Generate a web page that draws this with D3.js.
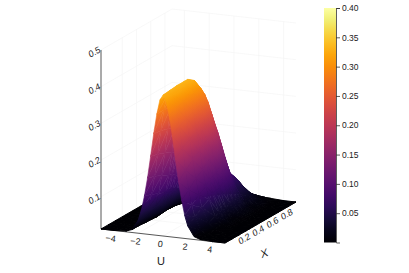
<!DOCTYPE html>
<html>
<head>
<meta charset="utf-8">
<script src="https://cdn.jsdelivr.net/npm/d3@7"></script>
<style>
  html, body { margin: 0; padding: 0; background: #fff; }
  text { font-family: "Liberation Sans", sans-serif; fill: #222; }
</style>
</head>
<body>
<div id="chart"></div>
<script>
// heights, one row per X, one column per U
const uValues = [-5,-4,-3,-2.5,-2,-1.75,-1.5,-1.25,-1,-0.75,-0.5,-0.25,0,0.25,0.5,0.75,1,1.25,1.5,1.75,2,2.5,3,4,5];
const xValues = [-0.1,0,0.1,0.2,0.25,0.3,0.35,0.4,0.45,0.5,0.55,0.6,0.65,0.7,0.8,0.9];
const zRows = [
  [.012,.012,.014,.020,.047,.075,.115,.165,.225,.288,.342,.382,.396,.382,.342,.288,.225,.165,.115,.075,.047,.020,.014,.012,.012],
  [.012,.012,.014,.020,.045,.070,.108,.159,.220,.285,.343,.383,.398,.387,.353,.302,.243,.184,.132,.091,.060,.027,.015,.012,.012],
  [.012,.012,.013,.018,.040,.063,.100,.150,.212,.279,.341,.384,.400,.389,.358,.313,.258,.203,.152,.109,.075,.035,.019,.012,.012],
  [.012,.012,.013,.017,.035,.056,.091,.140,.203,.272,.337,.383,.400,.390,.362,.320,.268,.215,.165,.121,.086,.041,.021,.012,.012],
  [.012,.012,.013,.016,.033,.053,.088,.136,.198,.268,.334,.382,.400,.391,.365,.326,.278,.227,.178,.133,.097,.048,.025,.012,.012],
  [.012,.012,.013,.017,.033,.052,.084,.130,.190,.255,.317,.367,.390,.392,.368,.330,.285,.234,.185,.139,.100,.047,.023,.012,.012],
  [.012,.012,.013,.018,.035,.051,.078,.115,.162,.216,.272,.322,.358,.374,.365,.335,.292,.242,.189,.141,.100,.046,.022,.013,.012],
  [.012,.012,.014,.019,.036,.052,.075,.107,.148,.194,.243,.290,.325,.345,.344,.325,.290,.245,.199,.153,.113,.056,.027,.013,.012],
  [.012,.012,.013,.018,.033,.046,.066,.092,.125,.163,.205,.246,.280,.300,.303,.289,.261,.225,.184,.145,.110,.057,.029,.013,.012],
  [.012,.012,.013,.018,.030,.041,.057,.079,.106,.137,.169,.201,.230,.249,.255,.248,.229,.201,.169,.137,.106,.057,.030,.013,.012],
  [.012,.012,.012,.016,.024,.032,.043,.059,.078,.100,.125,.149,.172,.187,.194,.190,.178,.158,.135,.110,.087,.049,.027,.013,.012],
  [.012,.012,.012,.014,.019,.024,.031,.041,.053,.068,.084,.100,.117,.128,.134,.132,.124,.111,.096,.080,.065,.039,.023,.013,.012],
  [.012,.012,.012,.013,.017,.021,.026,.034,.043,.055,.069,.083,.095,.105,.110,.111,.107,.099,.088,.075,.062,.039,.024,.013,.012],
  [.012,.012,.012,.013,.016,.018,.022,.027,.034,.043,.054,.065,.076,.085,.091,.093,.092,.087,.079,.069,.058,.038,.025,.014,.012],
  [.012,.012,.012,.012,.014,.015,.016,.018,.021,.023,.026,.030,.033,.036,.038,.040,.040,.040,.038,.036,.033,.026,.021,.014,.012],
  [.012,.012,.012,.012,.012,.012,.012,.013,.013,.014,.014,.015,.016,.017,.017,.018,.018,.018,.018,.017,.017,.015,.014,.012,.012]
];
const uTicks = [-4,-2,0,2,4];
const xTicks = [0.2,0.4,0.6,0.8];
const zTicks = [0.1,0.2,0.3,0.4,0.5];
const barTicks = [0.05,0.10,0.15,0.20,0.25,0.30,0.35,0.40];

const width = 409, height = 273;

let svg = d3.select("#chart").append("svg")
    .attr("width", width)
    .attr("height", height)
    .style("display", "block");
let defs = svg.append("defs");

// oblique projection: each data axis has a screen x and a screen y part
let uToX = d3.scaleLinear().domain([-5,5]).range([0,124]);
let uToY = d3.scaleLinear().domain([-5,5]).range([0,14]);
let xToX = d3.scaleLinear().domain([-0.1,0.9]).range([0,71]);
let xToY = d3.scaleLinear().domain([-0.1,0.9]).range([0,-41]);
let zToY = d3.scaleLinear().domain([0.012,0.5]).range([0,-179]);
let originX = 101, originY = 229;

function px(u, x) { return originX + uToX(u) + xToX(x); }
function py(u, x, z) { return originY + uToY(u) + xToY(x) + zToY(z); }

let surfaceColor = d3.scaleSequential(d3.interpolateInferno).domain([0.014,0.48]).clamp(true);
let barColor = d3.scaleSequential(d3.interpolateInferno).domain([0,0.4]);

// grid on the two back walls and the floor
let grid = svg.append("g").attr("stroke", "#f5f5f5").attr("stroke-width", 0.7).attr("fill", "none");
function seg(a, b) {
  grid.append("line").attr("x1", a[0]).attr("y1", a[1]).attr("x2", b[0]).attr("y2", b[1]);
}
zTicks.forEach(function(z) {
  seg([px(-5,-0.1),py(-5,-0.1,z)], [px(-5,0.9),py(-5,0.9,z)]);
  seg([px(-5,0.9),py(-5,0.9,z)], [px(5,0.9),py(5,0.9,z)]);
});
xTicks.forEach(function(x) {
  seg([px(-5,x),py(-5,x,0.012)], [px(-5,x),py(-5,x,0.5)]);
  seg([px(-5,x),py(-5,x,0.012)], [px(5,x),py(5,x,0.012)]);
});
uTicks.forEach(function(u) {
  seg([px(u,0.9),py(u,0.9,0.012)], [px(u,0.9),py(u,0.9,0.5)]);
  seg([px(u,-0.1),py(u,-0.1,0.012)], [px(u,0.9),py(u,0.9,0.012)]);
});

// axes of the box, the surface paints over the x one
let axes = svg.append("g").attr("stroke", "#444").attr("stroke-width", 0.9).attr("fill", "none");
function axisLine(a, b) {
  axes.append("line").attr("x1", a[0]).attr("y1", a[1]).attr("x2", b[0]).attr("y2", b[1]);
}
axisLine([px(-5,-0.1),py(-5,-0.1,0.012)], [px(-5,-0.1),py(-5,-0.1,0.5)]);
axisLine([px(-5,-0.1),py(-5,-0.1,0.012)], [px(5,-0.1),py(5,-0.1,0.012)]);
axisLine([px(5,-0.1),py(5,-0.1,0.012)], [px(5,0.9),py(5,0.9,0.012)]);

// surface, painted from the far row to the near one
let surface = svg.append("g");
let gradId = 0;

function vertex(c, r) {
  let z = zRows[r][c];
  return { z: z, sx: px(uValues[c], xValues[r]), sy: py(uValues[c], xValues[r], z) };
}

// z is linear over a triangle, so the gradient can follow it exactly
function drawTriangle(a, b, c) {
  let det = (b.sx - a.sx) * (c.sy - a.sy) - (c.sx - a.sx) * (b.sy - a.sy);
  let lo = d3.least([a,b,c], function(d) { return d.z; });
  let hi = d3.greatest([a,b,c], function(d) { return d.z; });
  let dz = hi.z - lo.z;
  let paint;
  if (Math.abs(det) < 0.5 || dz < 0.001) {
    paint = surfaceColor((lo.z + hi.z) / 2);
  } else {
    let gx = ((b.z - a.z) * (c.sy - a.sy) - (c.z - a.z) * (b.sy - a.sy)) / det;
    let gy = ((b.sx - a.sx) * (c.z - a.z) - (c.sx - a.sx) * (b.z - a.z)) / det;
    let k = dz / (gx * gx + gy * gy);
    let id = "g" + (gradId++);
    let grad = defs.append("linearGradient").attr("id", id)
        .attr("gradientUnits", "userSpaceOnUse")
        .attr("x1", lo.sx).attr("y1", lo.sy)
        .attr("x2", lo.sx + gx * k).attr("y2", lo.sy + gy * k);
    [0,0.33,0.67,1].forEach(function(t) {
      grad.append("stop").attr("offset", t).attr("stop-color", surfaceColor(lo.z + dz * t));
    });
    paint = "url(#" + id + ")";
  }
  // the near-black floor shows seams, so it gets a wider stroke
  surface.append("polygon")
      .attr("points", [a,b,c].map(function(d) { return d.sx + "," + d.sy; }).join(" "))
      .attr("fill", paint).attr("stroke", paint)
      .attr("stroke-width", hi.z < 0.08 ? 1 : 0.6).attr("stroke-linejoin", "round");
}

for (let r = xValues.length - 2; r >= 0; r--) {
  for (let c = 0; c < uValues.length - 1; c++) {
    let a = vertex(c, r), b = vertex(c + 1, r), cc = vertex(c + 1, r + 1), d = vertex(c, r + 1);
    drawTriangle(a, cc, d);
    drawTriangle(a, b, cc);
  }
}

let labels = svg.append("g").attr("font-size", 9);
uTicks.forEach(function(u) {
  labels.append("text")
      .attr("text-anchor", "middle")
      .attr("transform", "translate(" + (px(u,-0.1) - 3) + "," + (py(u,-0.1,0.012) + 11) + ") rotate(6)")
      .text(u < 0 ? "\u2212" + Math.abs(u) : u);
});
xTicks.forEach(function(x) {
  labels.append("text")
      .attr("text-anchor", "middle")
      .attr("transform", "translate(" + (px(5,x) - 1) + "," + (py(5,x,0.012) + 11) + ") rotate(-30) skewX(-8)")
      .text(x.toFixed(1));
});
zTicks.forEach(function(z) {
  labels.append("text")
      .attr("text-anchor", "end")
      .attr("transform", "translate(" + originX + "," + (py(-5,-0.1,z) + 2) + ") rotate(-28) skewX(-8)")
      .text(z.toFixed(1));
});
svg.append("text").attr("font-size", 11).attr("text-anchor", "middle")
    .attr("transform", "translate(161,265)").text("U");
svg.append("text").attr("font-size", 11).attr("text-anchor", "middle")
    .attr("transform", "translate(265,257) rotate(-20) skewX(-10)").text("X");

// colorbar
let barScale = d3.scaleLinear().domain([0,0.4]).range([242.5,8]);
let barGrad = defs.append("linearGradient").attr("id", "bar")
    .attr("x1", 0).attr("y1", 1).attr("x2", 0).attr("y2", 0);
d3.range(0, 1.001, 0.05).forEach(function(t) {
  barGrad.append("stop").attr("offset", t).attr("stop-color", barColor(t * 0.4));
});
svg.append("rect")
    .attr("x", 324).attr("y", barScale(0.4))
    .attr("width", 12).attr("height", barScale(0) - barScale(0.4))
    .attr("fill", "url(#bar)");
let barAxis = d3.axisRight(barScale)
    .tickValues(barTicks)
    .tickSize(4)
    .tickPadding(2)
    .tickFormat(d3.format(".2f"));
let barG = svg.append("g").attr("transform", "translate(336,0)").call(barAxis);
barG.select(".domain").attr("stroke", "#333").attr("stroke-width", 0.8);
barG.selectAll("line").attr("stroke", "#333").attr("stroke-width", 0.8);
barG.selectAll("text").attr("font-size", 8.5).attr("font-family", "Liberation Sans").attr("fill", "#333");
</script>
</body>
</html>
